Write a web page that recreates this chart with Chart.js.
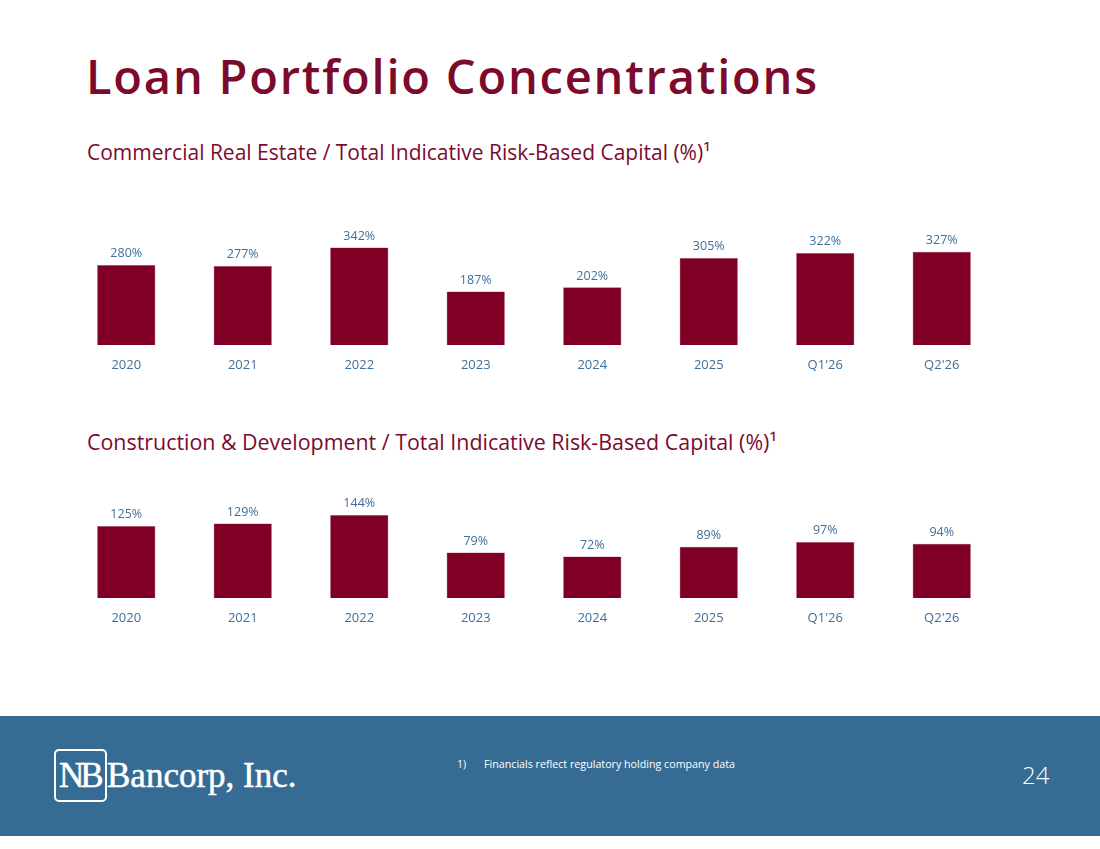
<!DOCTYPE html>
<html>
<head>
<meta charset="utf-8">
<script src="https://cdn.jsdelivr.net/npm/chart.js@4.4.1/dist/chart.umd.min.js"></script>
<style>
  body { margin: 0; background: #fff; }
  #slide { position: relative; width: 1100px; height: 849px; overflow: hidden; font-family: "Open Sans", sans-serif; }
  .title { position: absolute; left: 86px; top: 44px; font-size: 47px; font-weight: 600; color: #7b0a2c; letter-spacing: 1.8px; white-space: nowrap; }
  .sub { position: absolute; left: 87px; font-family: "Open Sans", sans-serif; color: #7b0a2c; white-space: nowrap; }
  canvas { position: absolute; left: 0; }
  #footer { position: absolute; left: 0; top: 716px; width: 1100px; height: 120px; background: #366b93; }
  .logoBox { position: absolute; left: 54px; top: 33px; width: 53px; height: 53px; border: 2px solid #fff; border-radius: 5px; box-sizing: border-box; }
  .logo { position: absolute; top: 40px; font-family: "Liberation Serif", "DejaVu Serif", serif; font-size: 35px; color: #fff; white-space: nowrap; -webkit-text-stroke: 0.5px #fff; }
  .note { position: absolute; top: 41px; font-family: "Open Sans", sans-serif; font-size: 10.7px; color: #fff; white-space: nowrap; }
  .page { position: absolute; left: 1022px; top: 42px; font-family: "Open Sans", sans-serif; font-weight: 300; font-size: 24px; color: #fff; }
</style>
</head>
<body>
<div id="slide">
  <div class="title">Loan Portfolio Concentrations</div>
  <div class="sub" style="top:138px; font-size:21px">Commercial Real Estate / Total Indicative Risk-Based Capital (%)¹</div>
  <canvas id="cre" width="1100" height="175" style="top:200px"></canvas>
  <div class="sub" style="top:427px; font-size:21.4px">Construction &amp; Development / Total Indicative Risk-Based Capital (%)¹</div>
  <canvas id="cnd" width="1100" height="158" style="top:470px"></canvas>
  <div id="footer">
    <div class="logoBox"></div>
    <div class="logo" style="left:59px; letter-spacing:-4px">NB</div>
    <div class="logo" style="left:107px">Bancorp, Inc.</div>
    <div class="note" style="left:457px">1)</div>
    <div class="note" style="left:484px">Financials reflect regulatory holding company data</div>
    <div class="page">24</div>
  </div>
</div>
<script>
const periods = ['2020', '2021', '2022', '2023', '2024', '2025', "Q1'26", "Q2'26"];
const creRatio = [280, 277, 342, 187, 202, 305, 322, 327];
const cndRatio = [125, 129, 144, 79, 72, 89, 97, 94];

const barColor = '#7f0024';
const textBlue = '#3f6f9a';

// value labels on top of each bar
const topLabels = {
  id: 'topLabels',
  afterDatasetsDraw(chart) {
    const ctx = chart.ctx;
    const meta = chart.getDatasetMeta(0);
    ctx.save();
    ctx.font = '12.5px "Open Sans", sans-serif';
    ctx.fillStyle = textBlue;
    ctx.textAlign = 'center';
    ctx.textBaseline = 'bottom';
    meta.data.forEach((bar, i) => {
      ctx.fillText(chart.data.datasets[0].data[i] + '%', bar.x, bar.y - 5);
    });
    ctx.restore();
  }
};

function makeChart(id, values, yMax) {
  return new Chart(document.getElementById(id), {
    type: 'bar',
    data: {
      labels: periods,
      datasets: [{
        data: values,
        backgroundColor: barColor,
        borderColor: '#b0556c',
        borderWidth: 0.5,
        barPercentage: 1,
        categoryPercentage: 0.5
      }]
    },
    options: {
      responsive: false,
      animation: false,
      layout: { padding: { left: 68, right: 100, top: 0, bottom: 0 } },
      plugins: { legend: { display: false }, tooltip: { enabled: false } },
      scales: {
        x: {
          grid: { display: false, drawTicks: false },
          border: { display: false },
          ticks: { color: textBlue, font: { family: 'Open Sans', size: 13 }, padding: 12 },
          afterFit: (scale) => { scale.height = 30; }
        },
        y: { display: false, min: 0, max: yMax }
      }
    },
    plugins: [topLabels]
  });
}

makeChart('cre', creRatio, 508);
makeChart('cnd', cndRatio, 222);
</script>
</body>
</html>
